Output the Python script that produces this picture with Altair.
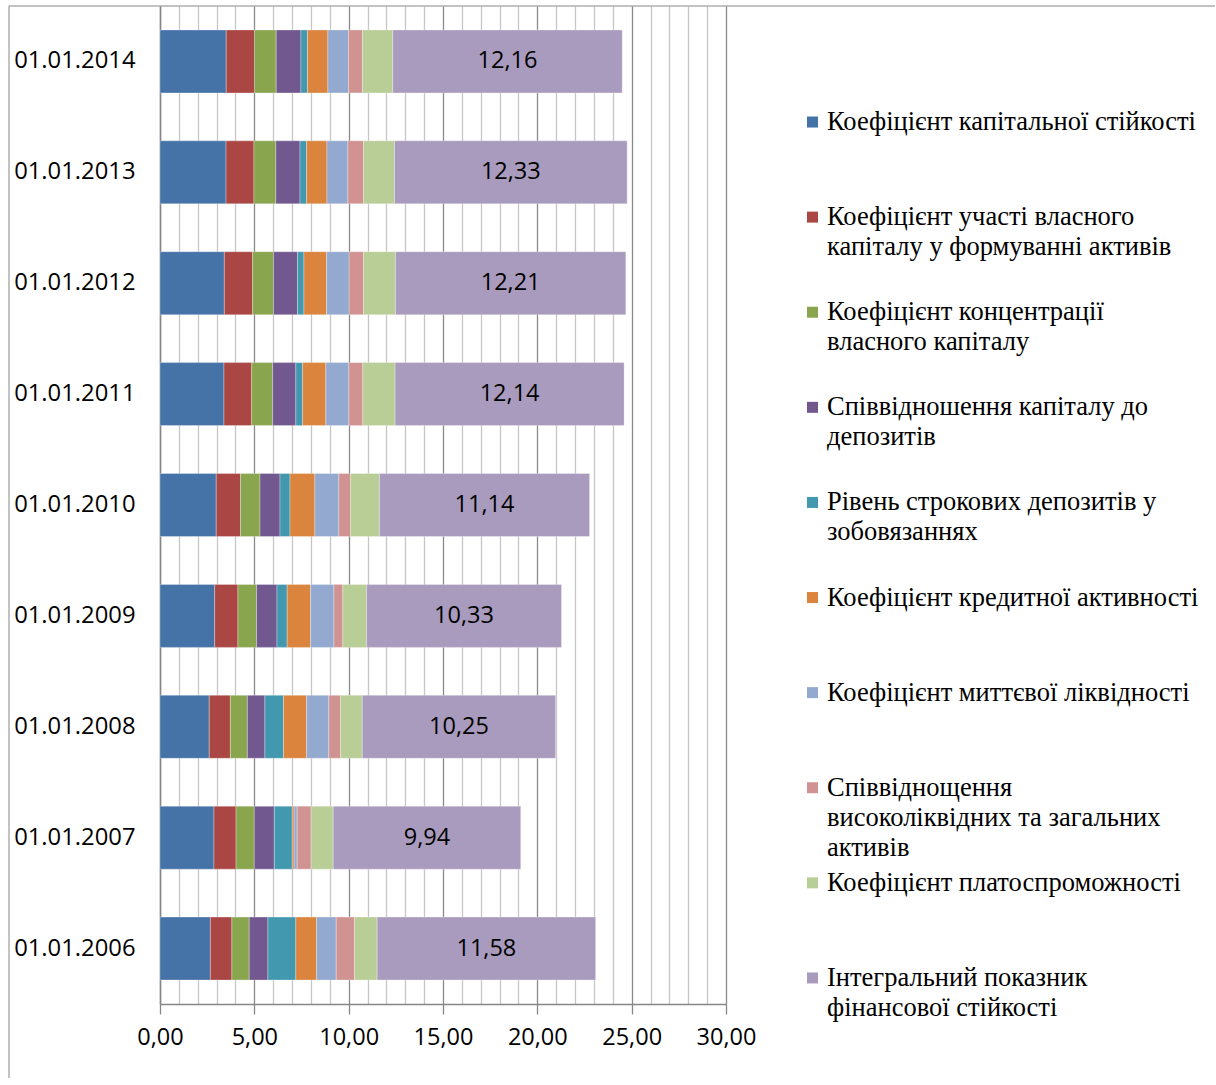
import altair as alt
import pandas as pd

dates = ["01.01.2006", "01.01.2007", "01.01.2008", "01.01.2009", "01.01.2010",
         "01.01.2011", "01.01.2012", "01.01.2013", "01.01.2014"]

legend_lines = [
    ["Коефіцієнт капітальної стійкості"],
    ["Коефіцієнт участі власного", "капіталу у формуванні активів"],
    ["Коефіцієнт концентрації", "власного капіталу"],
    ["Співвідношення капіталу до", "депозитів"],
    ["Рівень строкових депозитів у", "зобовязаннях"],
    ["Коефіцієнт кредитної активності"],
    ["Коефіцієнт миттєвої ліквідності"],
    ["Співвіднощення", "високоліквідних та загальних", "активів"],
    ["Коефіцієнт платоспроможності"],
    ["Інтегральний показник", "фінансової стійкості"],
]
series_names = [" ".join(l) for l in legend_lines]

colors = ["#4572A7", "#AA4643", "#89A54E", "#71588F", "#4198AF",
          "#DB843D", "#93A9CF", "#D19392", "#B9CD96", "#A99BBD"]

# values per series, in the order of `dates` (2006 ... 2014)
s1 = [2.67, 2.86, 2.61, 2.90, 2.98, 3.39, 3.41, 3.50, 3.51]
s2 = [1.14, 1.17, 1.12, 1.23, 1.29, 1.47, 1.50, 1.48, 1.50]
s3 = [0.92, 0.97, 0.90, 0.99, 1.03, 1.11, 1.11, 1.16, 1.15]
s4 = [0.99, 1.06, 0.93, 1.08, 1.06, 1.23, 1.27, 1.28, 1.31]
s5 = [1.48, 0.95, 0.99, 0.54, 0.53, 0.36, 0.34, 0.35, 0.35]
s6 = [1.10, 0.10, 1.22, 1.24, 1.32, 1.23, 1.20, 1.08, 1.08]
s7 = [1.04, 0.16, 1.18, 1.24, 1.27, 1.22, 1.20, 1.11, 1.09]
s8 = [0.97, 0.74, 0.62, 0.47, 0.62, 0.74, 0.76, 0.83, 0.74]
s9 = [1.20, 1.17, 1.15, 1.26, 1.53, 1.71, 1.69, 1.64, 1.61]
s10 = [11.58, 9.94, 10.25, 10.33, 11.14, 12.14, 12.21, 12.33, 12.16]
series_values = [s1, s2, s3, s4, s5, s6, s7, s8, s9, s10]

x_ticks = list(range(0, 31))

AXIS_FONT = "Open Sans"
LEG_FONT = "Liberation Serif"
GRAY = "#868686"

rows = []
for k, (name, vals) in enumerate(zip(series_names, series_values)):
    for d, v in zip(dates, vals):
        rows.append({"date": d, "series": name, "order": k, "value": v})
df = pd.DataFrame(rows)

totals = [sum(vals[i] for vals in series_values) for i in range(len(dates))]
lab_df = pd.DataFrame({
    "date": dates,
    "value": [t - l / 2 for t, l in zip(totals, s10)],
    "label": [f"{v:.2f}".replace(".", ",") for v in s10],
})

y_sort = list(reversed(dates))
major = "datum.value % 5 === 0"

xaxis = alt.Axis(
    values=x_ticks,
    labelExpr=f"{major} ? replace(format(datum.value, '.2f'), '.', ',') : ''",
    grid=True,
    gridColor={"condition": {"test": major, "value": "#8a8a8a"}, "value": "#c6c6c6"},
    gridWidth=1.3,
    tickColor=GRAY,
    tickSize=10,
    tickWidth=1.3,
    tickOpacity={"condition": {"test": major, "value": 1}, "value": 0},
    domainColor=GRAY,
    domainWidth=1.5,
    labelFont=AXIS_FONT,
    labelFontSize=23.5,
    labelColor="black",
    labelPadding=11,
    labelOverlap=False,
    labelFlush=False,
    title=None,
)
yaxis = alt.Axis(
    ticks=False,
    domainColor=GRAY,
    domainWidth=1.5,
    labelFont=AXIS_FONT,
    labelFontSize=23.8,
    labelColor="black",
    labelPadding=25,
    title=None,
)

xscale = alt.Scale(domain=[0, 30], nice=False)
yband = alt.Scale(paddingInner=0.432, paddingOuter=0.216)
color = alt.Color("series:N", scale=alt.Scale(domain=series_names, range=colors), legend=None)

bars = alt.Chart(df).mark_bar(stroke="white", strokeWidth=0.6, strokeOpacity=0.5).encode(
    x=alt.X("value:Q", stack="zero", scale=xscale, axis=xaxis),
    y=alt.Y("date:N", sort=y_sort, scale=yband, axis=yaxis),
    color=color,
    order=alt.Order("order:Q", sort="ascending"),
)

labels = alt.Chart(lab_df).mark_text(
    font=AXIS_FONT, fontSize=23.5, color="black", align="center", baseline="middle"
).encode(
    x=alt.X("value:Q", scale=xscale, axis=xaxis),
    y=alt.Y("date:N", sort=y_sort, scale=yband, axis=yaxis),
    text="label:N",
)

frame_df = pd.DataFrame({"k": [0]})
frame_v = alt.Chart(frame_df).mark_rule(color=GRAY, strokeWidth=1).encode(
    x=alt.value(-151), y=alt.value(0), y2=alt.value(1072)
)
frame_h = alt.Chart(frame_df).mark_rule(color=GRAY, strokeWidth=1).encode(
    x=alt.value(-151), x2=alt.value(1055), y=alt.value(0)
)

left = alt.layer(bars, labels, frame_v, frame_h).properties(width=566, height=998)

leg_rows = []
for i, lines in enumerate(legend_lines):
    for j, t in enumerate(lines):
        leg_rows.append({"idx": i, "line": j, "text": t, "series": series_names[i]})
leg_df = pd.DataFrame(leg_rows)

yscale = alt.Scale(domain=[-1.22, 9.274], reverse=True, nice=False, zero=False)

sym = alt.Chart(leg_df).transform_filter("datum.line === 0").mark_point(
    shape="square", filled=True, size=121, opacity=1
).encode(
    x=alt.value(21.5),
    y=alt.Y("idx:Q", scale=yscale, axis=None),
    color=color,
)
texts = [
    alt.Chart(leg_df).transform_filter(f"datum.line === {k}").mark_text(
        align="left", baseline="middle", font=LEG_FONT, fontSize=26.5, dy=30 * k, color="black"
    ).encode(
        x=alt.value(36),
        y=alt.Y("idx:Q", scale=yscale, axis=None),
        text="text:N",
    )
    for k in range(3)
]
legend = alt.layer(sym, *texts).properties(width=400, height=998)

chart = alt.hconcat(left, legend, spacing=65, bounds="flush").properties(
    padding={"left": 8, "top": 5, "right": 0, "bottom": 0}
).configure_view(stroke=None)

chart.save("out.html", embed_options={"renderer": "svg", "actions": False})
